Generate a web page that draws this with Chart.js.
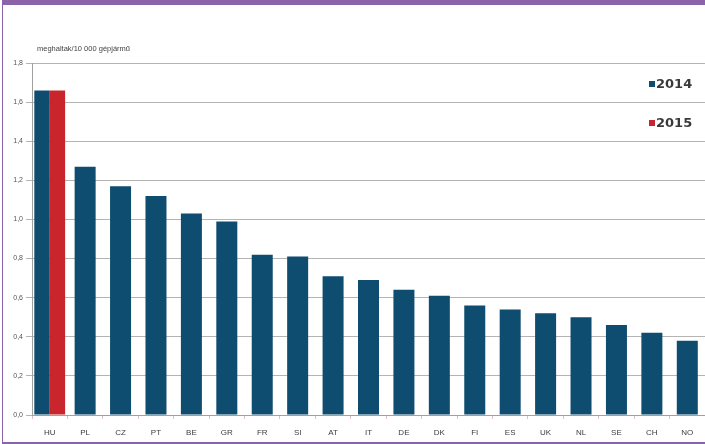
<!DOCTYPE html>
<html>
<head>
<meta charset="utf-8">
<script src="https://cdn.jsdelivr.net/npm/chart.js@4/dist/chart.umd.min.js"></script>
<style>
  html, body { margin: 0; padding: 0; background: #fff; }
  #wrap { position: relative; width: 705px; height: 444px; overflow: hidden; }
  #frame {
    position: absolute; left: 2px; top: 0; width: 703px; height: 444px;
    box-sizing: border-box; pointer-events: none;
    border-top: 5px solid #8c62a9; border-left: 1px solid #8c62a9; border-bottom: 2px solid #8c62a9;
  }
</style>
</head>
<body>
<div id="wrap">
  <canvas id="chart" width="705" height="444"></canvas>
  <div id="frame"></div>
</div>
<script>
// data
const countries = ['HU', 'PL', 'CZ', 'PT', 'BE', 'GR', 'FR', 'SI', 'AT', 'IT', 'DE', 'DK', 'FI', 'ES', 'UK', 'NL', 'SE', 'CH', 'NO'];
const values2014 = [1.66, 1.27, 1.17, 1.12, 1.03, 0.99, 0.82, 0.81, 0.71, 0.69, 0.64, 0.61, 0.56, 0.54, 0.52, 0.50, 0.46, 0.42, 0.38];
const values2015 = [1.66, null, null, null, null, null, null, null, null, null, null, null, null, null, null, null, null, null, null];
const seriesLabels = ['2014', '2015'];
const axisTitle = 'meghaltak/10 000 gépjármű';

const navy = '#0e4d6f';
const red = '#c8262c';

// axis caption + legend drawn by hand, like the original
const extras = {
  id: 'extras',
  afterDraw(chart) {
    const ctx = chart.ctx;
    const area = chart.chartArea;
    ctx.save();
    ctx.fillStyle = '#444';
    ctx.font = '7.5px "Liberation Sans", Arial, sans-serif';
    ctx.textBaseline = 'middle';
    ctx.textAlign = 'left';
    ctx.fillText(axisTitle, area.left + 5, area.top - 14);

    chart.data.datasets.forEach((ds, i) => {
      const y = area.top + 21 + i * 39;
      ctx.fillStyle = ds.backgroundColor;
      ctx.fillRect(649, y - 3, 6, 6);
      ctx.fillStyle = '#3a3a3a';
      ctx.font = 'bold 13px "DejaVu Sans", sans-serif';
      ctx.fillText(ds.label, 656, y + 1);
    });
    ctx.restore();
  }
};

new Chart(document.getElementById('chart'), {
  type: 'bar',
  data: {
    labels: countries,
    datasets: [
      { label: seriesLabels[0], data: values2014, backgroundColor: navy },
      { label: seriesLabels[1], data: values2015, backgroundColor: red }
    ]
  },
  options: {
    responsive: false,
    animation: false,
    layout: { padding: { left: 0, right: 0, top: 63, bottom: 0 } },
    datasets: {
      bar: {
        skipNull: true,
        categoryPercentage: 0.87,
        barPercentage: 1,
        maxBarThickness: 21
      }
    },
    plugins: {
      legend: { display: false },
      tooltip: { enabled: false }
    },
    scales: {
      x: {
        afterFit: s => { s.height = 29; },
        grid: {
          drawOnChartArea: false,
          drawTicks: true,
          tickLength: 4,
          color: '#dcc4c4'
        },
        border: { color: '#a0a0a0' },
        ticks: {
          color: '#3c3c3c',
          font: { size: 8, family: '"Liberation Sans", Arial, sans-serif' },
          padding: 9,
          maxRotation: 0,
          autoSkip: false
        }
      },
      y: {
        min: 0,
        max: 1.8,
        afterFit: s => { s.width = 32; },
        grid: { color: '#b4b4b4', tickLength: 6 },
        border: { color: '#a0a0a0' },
        ticks: {
          stepSize: 0.2,
          color: '#555',
          padding: 3,
          font: { size: 7, family: '"Liberation Sans", Arial, sans-serif' },
          callback: v => v.toFixed(1).replace('.', ',')
        }
      }
    }
  },
  plugins: [extras]
});
</script>
</body>
</html>
